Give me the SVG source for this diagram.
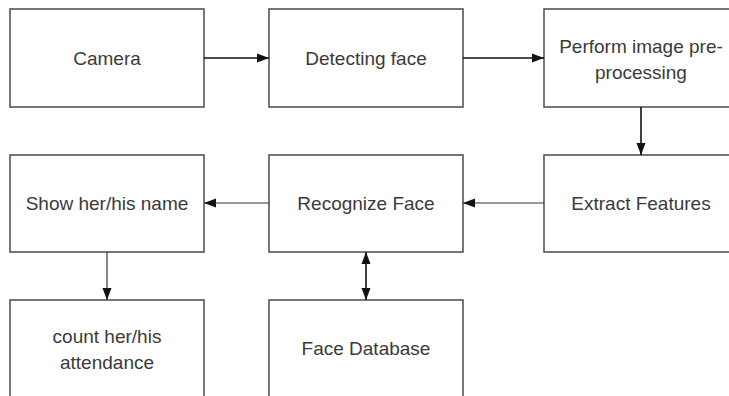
<svg xmlns="http://www.w3.org/2000/svg" width="729" height="396" viewBox="0 0 729 396">
<defs>
<style>
.box{fill:#ffffff;stroke:#555555;stroke-width:1.6}
.lbl{font-family:"Liberation Sans",Arial,sans-serif;font-size:19px;fill:#3a3a3a;text-anchor:middle}
.edge{stroke:#111111;stroke-width:1.6;fill:none}
.thin{stroke:#333333;stroke-width:1.2;fill:none}
</style>
<marker id="ah" viewBox="0 0 12 10" refX="12" refY="5" markerWidth="12" markerHeight="10" markerUnits="userSpaceOnUse" orient="auto-start-reverse">
<path d="M0,0.5 L12,5 L0,9.5 z" fill="#111111"/>
</marker>
</defs>
<rect width="729" height="396" fill="#ffffff"/>
<g id="camera"><rect class="box" x="10" y="9" width="194" height="98"/><text class="lbl" x="107" y="64.5">Camera</text></g>
<g id="detecting"><rect class="box" x="269" y="9" width="194" height="98"/><text class="lbl" x="366" y="64.5">Detecting face</text></g>
<g id="preprocess"><rect class="box" x="544" y="9" width="194" height="98"/><text class="lbl" x="641" y="53">Perform image pre-</text><text class="lbl" x="641" y="78.5">processing</text></g>
<g id="show"><rect class="box" x="10" y="155" width="194" height="97"/><text class="lbl" x="107" y="209.5">Show her/his name</text></g>
<g id="recognize"><rect class="box" x="269" y="155" width="194" height="97"/><text class="lbl" x="366" y="209.5">Recognize Face</text></g>
<g id="extract"><rect class="box" x="544" y="155" width="194" height="97"/><text class="lbl" x="641" y="209.5">Extract Features</text></g>
<g id="count"><rect class="box" x="10" y="300" width="194" height="100"/><text class="lbl" x="107" y="343">count her/his</text><text class="lbl" x="107" y="368.5">attendance</text></g>
<g id="database"><rect class="box" x="269" y="300" width="194" height="100"/><text class="lbl" x="366" y="354.5">Face Database</text></g>
<g id="connectors">
<line class="edge" x1="204" y1="58" x2="269" y2="58" marker-end="url(#ah)"/>
<line class="edge" x1="463" y1="58" x2="544" y2="58" marker-end="url(#ah)"/>
<line class="edge" x1="641" y1="107" x2="641" y2="155" marker-end="url(#ah)"/>
<line class="thin" x1="544" y1="203" x2="463" y2="203" marker-end="url(#ah)"/>
<line class="thin" x1="269" y1="203" x2="204" y2="203" marker-end="url(#ah)"/>
<line class="thin" x1="107" y1="252" x2="107" y2="300" marker-end="url(#ah)"/>
<line class="edge" x1="366" y1="252" x2="366" y2="300" marker-start="url(#ah)" marker-end="url(#ah)"/>
</g>
</svg>
